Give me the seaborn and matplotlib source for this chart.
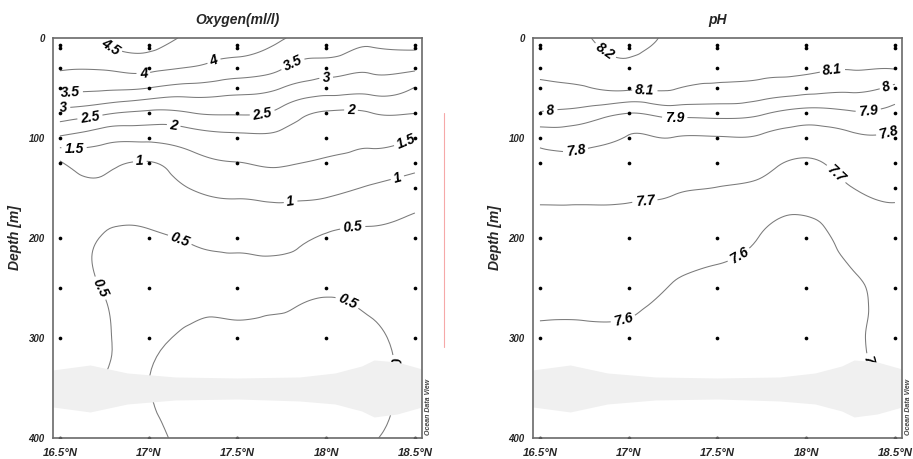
import numpy as np
import pandas as pd
import matplotlib
matplotlib.use("Agg")
import matplotlib.pyplot as plt
import matplotlib.tri as mtri
from matplotlib.lines import Line2D
from matplotlib.ticker import MultipleLocator, FixedLocator
import seaborn as sns

# ---- sampling positions (CTD bottles) ----
station_lat = [16.5, 17.0, 17.5, 18.0, 18.5]
bottle_depth = [7, 10, 30, 50, 75, 100, 125, 200, 250, 300, 400]
extra_bottle_lat = [18.5]
extra_bottle_depth = [150]

# ---- gridded section (rows: latitude, columns: depth) ----
grid_lat = [16.5, 16.75, 17.0, 17.25, 17.5, 17.75, 18.0, 18.25, 18.5]
grid_depth = [0, 10, 30, 50, 75, 100, 125, 150, 200, 250, 300, 400]

oxygen_by_lat = [
    [4.32, 4.25, 4.04, 3.64, 2.82, 1.92, 0.95, 0.85, 0.72, 0.68, 0.62, 0.40],
    [4.51, 4.45, 4.05, 3.58, 2.58, 1.67, 1.13, 0.88, 0.47, 0.48, 0.52, 0.46],
    [4.72, 4.58, 4.12, 3.50, 2.40, 1.62, 0.97, 0.78, 0.42, 0.33, 0.45, 0.44],
    [4.38, 4.25, 3.97, 3.33, 2.50, 1.76, 1.34, 1.03, 0.55, 0.38, 0.56, 0.58],
    [4.30, 4.15, 3.78, 3.20, 2.55, 1.87, 1.49, 1.15, 0.60, 0.40, 0.58, 0.60],
    [4.05, 3.88, 3.53, 3.00, 2.35, 1.86, 1.55, 1.20, 0.62, 0.42, 0.60, 0.62],
    [3.80, 3.72, 3.22, 2.75, 1.95, 1.69, 1.43, 1.14, 0.45, 0.45, 0.62, 0.62],
    [3.65, 3.48, 3.10, 2.69, 1.99, 1.63, 1.29, 0.96, 0.40, 0.38, 0.56, 0.52],
    [3.68, 3.54, 3.09, 2.48, 2.01, 1.49, 1.15, 0.78, 0.33, 0.30, 0.35, 0.42],
]

ph_by_lat = [
    [8.170, 8.160, 8.130, 8.075, 7.993, 7.835, 7.767, 7.723, 7.668, 7.625, 7.590, 7.560],
    [8.190, 8.175, 8.135, 8.095, 7.960, 7.836, 7.770, 7.724, 7.668, 7.625, 7.590, 7.560],
    [8.240, 8.225, 8.179, 8.118, 7.902, 7.795, 7.757, 7.718, 7.666, 7.622, 7.590, 7.560],
    [8.180, 8.165, 8.133, 8.107, 7.938, 7.798, 7.755, 7.712, 7.650, 7.595, 7.578, 7.560],
    [8.170, 8.160, 8.130, 8.083, 7.938, 7.794, 7.746, 7.698, 7.633, 7.575, 7.570, 7.560],
    [8.160, 8.150, 8.125, 8.065, 7.914, 7.786, 7.728, 7.678, 7.595, 7.575, 7.570, 7.560],
    [8.160, 8.150, 8.115, 8.043, 7.865, 7.755, 7.687, 7.647, 7.570, 7.565, 7.562, 7.560],
    [8.160, 8.150, 8.106, 8.023, 7.887, 7.780, 7.740, 7.697, 7.631, 7.585, 7.585, 7.560],
    [8.150, 8.135, 8.105, 7.976, 7.865, 7.782, 7.747, 7.716, 7.665, 7.632, 7.630, 7.570],
]

o2_levels = [0.5, 1, 1.5, 2, 2.5, 3, 3.5, 4, 4.5]
ph_levels = [7.6, 7.7, 7.8, 7.9, 8.0, 8.1, 8.2]

# blanked (no-data) layer between the 300 m and 400 m bottles
gap_lat = [16.46, 16.67, 16.88, 17.15, 17.5, 17.85, 18.05, 18.2, 18.27, 18.4, 18.54]
gap_top = [332, 327, 335, 339, 340, 339, 335, 328, 322, 324, 331]
gap_bottom = [369, 374, 366, 362, 361, 363, 366, 373, 379, 376, 369]

lat_ticks = [16.5, 17.0, 17.5, 18.0, 18.5]
lat_labels = ["16.5°N", "17°N", "17.5°N", "18°N", "18.5°N"]
depth_ticks = [0, 100, 200, 300, 400]

# contour label anchor points (lat, depth)
o2_label_pos = [(16.79, 7), (16.97, 35), (17.37, 24), (17.82, 29), (18.0, 39),
                (16.56, 59), (16.52, 70), (16.67, 80), (17.64, 75), (18.14, 75),
                (17.14, 89), (16.58, 112), (18.44, 99), (16.95, 122), (17.8, 164),
                (18.4, 139), (17.19, 195), (18.15, 190), (16.73, 250), (18.12, 264),
                (18.42, 329)]
ph_label_pos = [(16.84, 20), (17.09, 56), (18.15, 36), (16.56, 72), (18.45, 48),
                (17.26, 82), (18.35, 73), (16.7, 112), (18.45, 86), (17.09, 160),
                (18.19, 132), (16.96, 275), (17.62, 217), (18.41, 325)]

# ---------------------------------------------------------------------------
sns.set_style("white")
plt.rcParams["font.family"] = ["Liberation Sans", "DejaVu Sans"]
plt.rcParams["font.weight"] = "bold"
plt.rcParams["font.style"] = "italic"
plt.rcParams["axes.titleweight"] = "bold"
plt.rcParams["axes.labelweight"] = "bold"

FRAME = "#6a6a6a"
LINE = "#7a7a7a"
XSCALE = 400.0  # lat -> pseudo-metres for an isotropic triangulation


def smooth_section(lats, depths, by_lat):
    lat_arr = np.asarray(lats, float)
    dep_arr = np.asarray(depths, float)
    field = np.asarray(by_lat, float)  # (lat, depth)
    LA, DE = np.meshgrid(lat_arr, dep_arr, indexing="ij")
    xs = (LA.ravel() - lat_arr[0]) * XSCALE
    tri = mtri.Triangulation(xs, DE.ravel())
    interp = mtri.CubicTriInterpolator(tri, field.ravel(), kind="min_E")
    refiner = mtri.UniformTriRefiner(tri)
    tri_f, z_f = refiner.refine_field(field.ravel(), triinterpolator=interp, subdiv=4)
    tri_out = mtri.Triangulation(tri_f.x / XSCALE + lat_arr[0], tri_f.y, tri_f.triangles)
    return tri_out, z_f


samples = pd.DataFrame(
    [(la, d) for la in station_lat for d in bottle_depth]
    + list(zip(extra_bottle_lat, extra_bottle_depth)),
    columns=["lat", "depth"],
)

fig = plt.figure(figsize=(9.13, 4.59), dpi=100)
ax_o2 = fig.add_axes([0.058, 0.0458, 0.404, 0.8715])
ax_ph = fig.add_axes([0.5838, 0.0458, 0.404, 0.8715])

panels = [
    (ax_o2, "Oxygen(ml/l)", oxygen_by_lat, o2_levels, o2_label_pos),
    (ax_ph, "pH", ph_by_lat, ph_levels, ph_label_pos),
]

for ax, title, values, levels, label_pos in panels:
    tri_f, z_f = smooth_section(grid_lat, grid_depth, values)
    cs = ax.tricontour(tri_f, z_f, levels=levels, colors=LINE, linewidths=0.75, zorder=2)

    ax.set_xlim(16.461, 18.539)
    ax.set_ylim(400, 0)

    labels = ax.clabel(cs, levels, inline=True, inline_spacing=3,
                       fmt=lambda v: f"{v:g}", fontsize=10, colors="black",
                       manual=label_pos)
    for t in labels:
        t.set_zorder(2.5)

    ax.fill_between(gap_lat, gap_top, gap_bottom, color="#f0f0f0", lw=0, zorder=3)

    sns.scatterplot(data=samples, x="lat", y="depth", ax=ax, color="black",
                    s=7, linewidth=0, legend=False, zorder=4)

    ax.set_title(title, fontsize=10, pad=10)
    ax.set_xlabel("")
    ax.set_ylabel("Depth [m]", fontsize=10, labelpad=5)

    ax.xaxis.set_major_locator(FixedLocator(lat_ticks))
    ax.set_xticklabels(lat_labels, fontsize=8.2)
    ax.xaxis.set_minor_locator(MultipleLocator(0.25))
    ax.yaxis.set_major_locator(FixedLocator(depth_ticks))
    ax.set_yticklabels([str(d) for d in depth_ticks], fontsize=7)
    ax.yaxis.set_minor_locator(MultipleLocator(50))
    ax.tick_params(which="major", direction="out", length=4, width=0.8,
                   color=FRAME, pad=2)
    ax.tick_params(which="minor", direction="out", length=2.5, width=0.7, color=FRAME)
    ax.tick_params(axis="x", which="major", pad=3)

    for sp in ax.spines.values():
        sp.set_color(FRAME)
        sp.set_linewidth(1.2)
        sp.set_visible(True)
        sp.set_zorder(5)

    ax.text(1.019, 0.078, "Ocean Data View", transform=ax.transAxes,
            rotation=90, fontsize=5, ha="center", va="center",
            fontweight="bold", fontstyle="italic", color="#444444")

fig.add_artist(Line2D([0.4863, 0.4863], [0.7538, 0.2440], transform=fig.transFigure,
                      color="#f6a8a8", linewidth=0.8))

fig.savefig("out.png", dpi=100, facecolor="white")
